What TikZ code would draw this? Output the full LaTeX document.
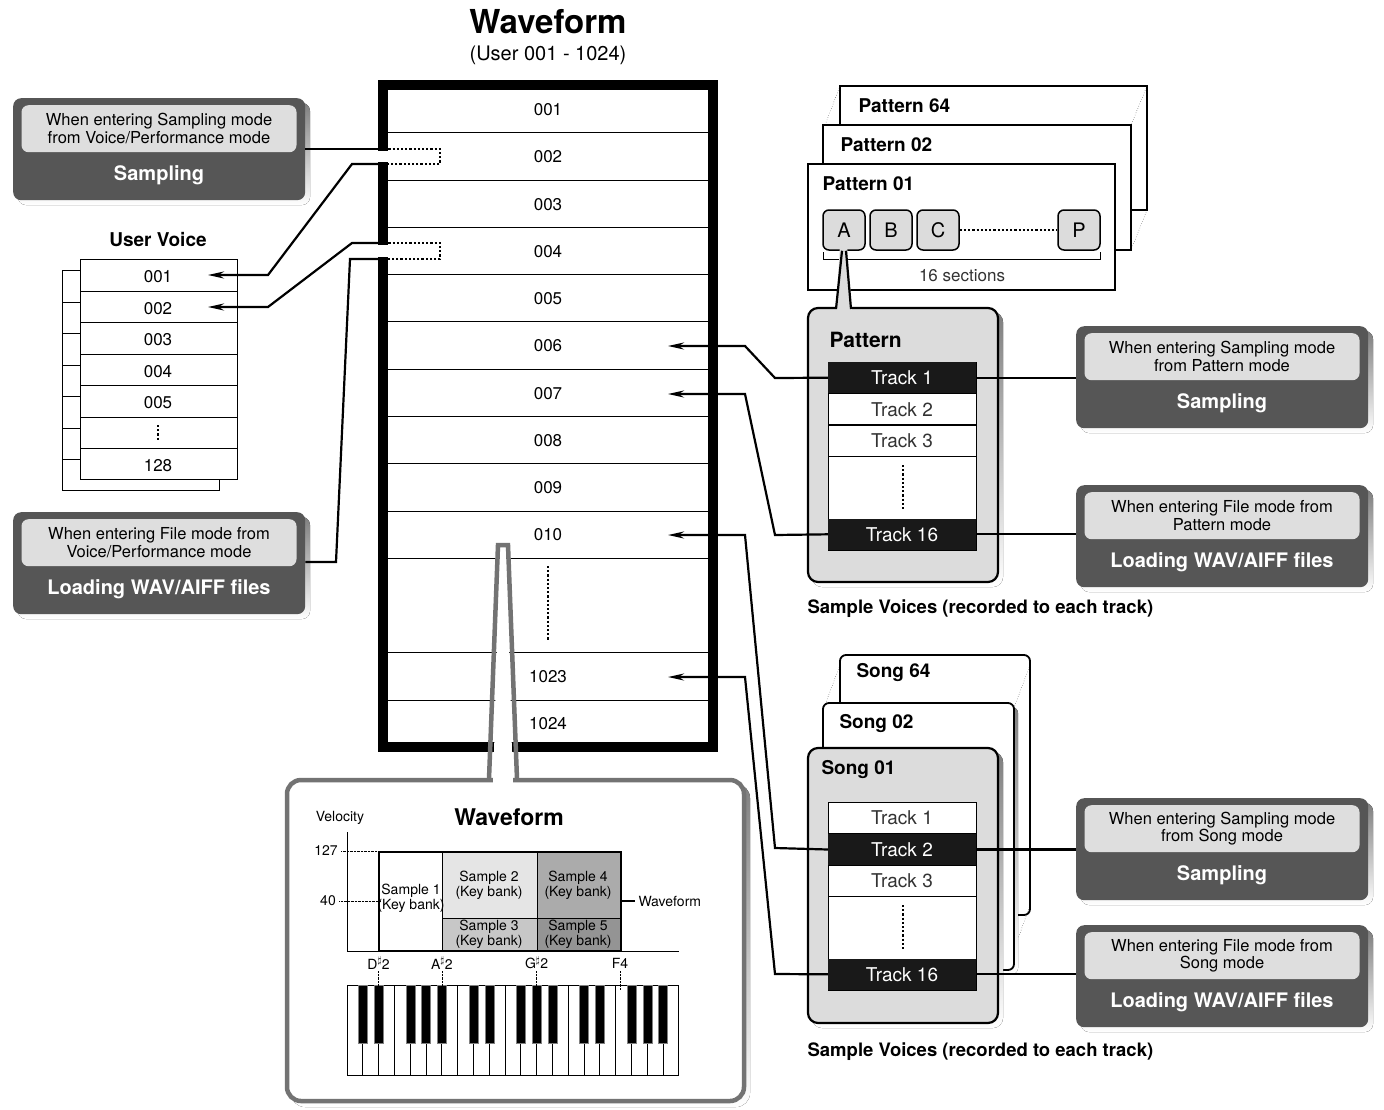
\documentclass[tikz,border=0pt]{standalone}
\usepackage{fontspec}
\setmainfont{TeX Gyre Heros}
\usepackage{tikz}
\usetikzlibrary{arrows.meta,calc}
\usepackage{xcolor}
\definecolor{modedark}{HTML}{565656}
\definecolor{modelight}{HTML}{DEDEDE}
\definecolor{panelgray}{HTML}{DCDCDC}
\definecolor{shade}{HTML}{B4B4B4}

\begin{document}
\begin{tikzpicture}[x=1pt,y=-1pt]
	 \tikzstyle{cell}=[font=\fontsize{17}{19}\selectfont]
	 \tikzstyle{small}=[font=\fontsize{14}{15}\selectfont]
	 \tikzstyle{heading}=[font=\bfseries\fontsize{19}{21}\selectfont]
	 \tikzstyle{modetext}=[font=\fontsize{16.5}{17.5}\selectfont,align=center]
	 \tikzstyle{modetitle}=[font=\bfseries\fontsize{20}{22}\selectfont,white]
	 \tikzstyle{track}=[minimum width=148,minimum height=31,inner sep=0pt,font=\fontsize{19}{21}\selectfont]
	 \tikzstyle{dark track}=[track,fill=black!90,text=white]
	 \tikzstyle{light track}=[track,fill=white,draw=black,line width=0.8pt,text=black!80]
	 \tikzstyle{link}=[draw,line width=2.2pt,black]
	 \tikzstyle{linkarrow}=[link,-{Stealth[length=16pt,width=7pt]}]
	 \tikzstyle{pad}=[draw,line width=1.5pt,rounded corners=6pt,fill=panelgray,minimum width=42,minimum height=40,font=\fontsize{20}{21}\selectfont]

	 \useasboundingbox (0,0) rectangle (1384,1109);

	 % title
	 \node[font=\bfseries\fontsize{33}{35}\selectfont] (title) at (548,22) {Waveform};
	 \node[font=\fontsize{20}{22}\selectfont] (subtitle) at (548,55) {(User 001 - 1024)};

	 % waveform list
	 \draw[line width=10pt] (383,85) rectangle (713,747);
	 \foreach \y in {132,180,227,274,321,369,416,463,511,558,652,700}
	   \draw[line width=0.9pt] (388,\y) -- (709,\y);
	 \foreach \l/\y in {001/110,002/157,003/205,004/252,005/299,006/346,007/394,008/441,009/488,010/535,1023/677,1024/724}
	   \node[cell] (w\l) at (548,\y) {\l};
	 \draw[line width=2.2pt,dotted] (548,566) -- (548,640);
	 \coordinate (a006) at (668,346);
	 \coordinate (a007) at (668,394);
	 \coordinate (a010) at (668,535);
	 \coordinate (a1023) at (668,677);

	 % entry points on the border
	 \fill[white] (377,151) rectangle (389,162);
	 \fill[white] (377,245) rectangle (389,257);
	 \draw[line width=2.2pt,dotted] (380,149) -- (440,149) -- (440,164) -- (380,164);
	 \draw[line width=2.2pt,dotted] (380,243) -- (440,243) -- (440,259) -- (380,259);
	 \coordinate (in2a) at (380,149);
	 \coordinate (in2b) at (380,164);
	 \coordinate (in4a) at (380,243);
	 \coordinate (in4b) at (380,259);

	 % mode boxes
	 \foreach \n/\x/\y/\a/\b in {
	   mvs/13/98/{When entering Sampling mode\\from Voice/Performance mode}/{Sampling},
	   mvf/13/512/{When entering File mode from\\Voice/Performance mode}/{Loading WAV/AIFF files},
	   mps/1076/326/{When entering Sampling mode\\from Pattern mode}/{Sampling},
	   mpf/1076/485/{When entering File mode from\\Pattern mode}/{Loading WAV/AIFF files},
	   mss/1076/798/{When entering Sampling mode\\from Song mode}/{Sampling},
	   msf/1076/925/{When entering File mode from\\Song mode}/{Loading WAV/AIFF files}}
	 {
	   \fill[shade,rounded corners=8pt] (\x+5,\y+5) rectangle ++(292,102);
	   \node[fill=modedark,rounded corners=8pt,minimum width=292,minimum height=102,inner sep=0pt,anchor=north west] (\n) at (\x,\y) {};
	   \node[fill=modelight,rounded corners=7pt,minimum width=275,minimum height=47,inner sep=0pt,anchor=north] (\n in) at (\x+146,\y+7) {};
	   \node[modetext] (\n t) at (\n in) {\a};
	   \node[modetitle] (\n b) at (\x+146,\y+77) {\b};
	 }

	 % user voice
	 \node[heading] (uvtitle) at (158,240) {User Voice};
	 \draw[line width=0.8pt] (80,270) -- (62,270) -- (62,490) -- (219,490) -- (219,479);
	 \foreach \y in {302,333,365,396,428,459}
	   \draw[line width=0.8pt] (62,\y) -- (80,\y);
	 \draw[line width=0.8pt] (80,259) rectangle (237,479);
	 \foreach \y in {291,322,354,385,417,448}
	   \draw[line width=0.8pt] (80,\y) -- (237,\y);
	 \foreach \l/\y in {001/277,002/309,003/340,004/372,005/403,128/466}
	   \node[cell] (u\l) at (158,\y) {\l};
	 \draw[line width=2.2pt,dotted] (158,425) -- (158,440);
	 \coordinate (a001) at (208,275);
	 \coordinate (a002) at (208,307);

	 % left connectors
	 \draw[link] (mvs.east |- in2a) -- (in2a);
	 \draw[linkarrow] (in2b) -- ++(-28,0) -- (268,275) -- (a001);
	 \draw[linkarrow] (in4a) -- ++(-28,0) -- (268,307) -- (a002);
	 \draw[link] (in4b) -- ++(-30,0) -- (336,562) -- (mvf.east |- 0,562);

	 % zoomed waveform
	 \fill[shade,rounded corners=14pt] (291,784) rectangle (750,1107);
	 \draw[line width=4.5pt,black!55,fill=white,rounded corners=14pt] (287,780) rectangle (744,1101);
	 \fill[white] (493,786) -- (500,545) -- (506,545) -- (513,786) -- cycle;
	 \draw[line width=4.5pt,black!55] (489,779) -- (498,545) -- (508,545) -- (517,779);
	 \node[small] (vel) at (340,818) {Velocity};
	 \node[font=\bfseries\fontsize{23}{25}\selectfont] (ztitle) at (509,817) {Waveform};
	 \draw[line width=0.9pt] (347,832) -- (347,951) -- (679,951);
	 \node[small] (v127) at (326,851) {127};
	 \node[small] (v40) at (328,901) {40};
	 \draw[densely dotted] (v127.east) -- (380,851);
	 \draw[densely dotted] (v40.east) -- (380,901);
	 \fill[black!10] (442,852) rectangle (537,918);
	 \fill[black!22] (442,918) rectangle (537,951);
	 \fill[black!33] (537,852) rectangle (621,918);
	 \fill[black!42] (537,918) rectangle (621,951);
	 \draw[line width=0.9pt] (442,852) -- (442,951) (537,852) -- (537,951) (442,918) -- (621,918);
	 \draw[line width=1.8pt] (379,852) rectangle (621,951);
	 \node[small,align=center,inner sep=0pt] (s1) at (411,898) {Sample 1\\(Key bank)};
	 \node[small,align=center,inner sep=0pt] (s2) at (489,885) {Sample 2\\(Key bank)};
	 \node[small,align=center,inner sep=0pt] (s3) at (489,934) {Sample 3\\(Key bank)};
	 \node[small,align=center,inner sep=0pt] (s4) at (578,885) {Sample 4\\(Key bank)};
	 \node[small,align=center,inner sep=0pt] (s5) at (578,934) {Sample 5\\(Key bank)};
	 \node[small,anchor=west] (wflabel) at (635,901) {Waveform};
	 \draw[line width=1.8pt] (621,901) -- (wflabel.west);
	 % keyboard
	 \foreach \i in {0,...,20}
	   \draw[line width=0.8pt,fill=white] (347+\i*15.8,985) rectangle ++(15.8,90);
	 \foreach \i in {1,2,4,5,6,8,9,11,12,13,15,16,18,19,20}
	   \draw[black!50,fill=black] (347+\i*15.8-4.5,985) rectangle ++(9,58);
	 \foreach \n/\t/\x in {k1/D$^\sharp$2/378.6,k2/A$^\sharp$2/441.8,k3/G$^\sharp$2/536.6,k4/F4/620}
	 {
	   \node[small] (\n) at (\x,963) {\t};
	   \draw[densely dotted] (\x,971) -- (\x,990);
	 }

	 % pattern stack
	 \draw[line width=1.8pt,fill=white] (840,86) rectangle (1147,210);
	 \draw[dotted] (840,86) -- (825,125) (1147,86) -- (1131,125) (1147,210) -- (1131,250);
	 \node[heading,anchor=west] (p64) at (855,106) {Pattern 64};
	 \draw[line width=1.8pt,fill=white] (823,125) rectangle (1131,250);
	 \node[heading,anchor=west] (p02) at (837,145) {Pattern 02};
	 \draw[line width=1.8pt,fill=white] (808,164) rectangle (1115,290);
	 \node[heading,anchor=west] (p01) at (819,184) {Pattern 01};
	 \node[pad] (sa) at (844,230) {A};
	 \node[pad] (sb) at (891,230) {B};
	 \node[pad] (sc) at (938,230) {C};
	 \node[pad] (sp) at (1079,230) {P};
	 \draw[line width=2.2pt,dotted] (sc.east) -- (sp.west);
	 \draw[line width=0.8pt] (823,252) -- (823,259) -- (1100,259) -- (1100,252);
	 \node[cell,text=black!80] (secs) at (962,276) {16 sections};

	 % pattern panel
	 \fill[shade,rounded corners=10pt] (812,312) rectangle (1003,587);
	 \draw[line width=2.2pt,fill=panelgray,rounded corners=10pt] (808,308) rectangle (998,582);
	 \fill[panelgray] (840,245) -- (847,245) -- (852,311) -- (836,311) -- cycle;
	 \draw[line width=2.2pt] (sa.south) ++(-2,0) -- (836,309) (sa.south) ++(2,0) -- (851,309);
	 \node[font=\bfseries\fontsize{21}{23}\selectfont,anchor=west] (pt) at (826,340) {Pattern};
	 \draw[line width=0.8pt,fill=white] (828,362) rectangle (976,550);
	 \node[dark track,anchor=north] (pt1) at (902,362) {Track 1};
	 \node[light track,anchor=north] (pt2) at (pt1.south) {Track 2};
	 \node[light track,anchor=north] (pt3) at (pt2.south) {Track 3};
	 \node[dark track,anchor=south] (pt16) at (902,550) {Track 16};
	 \draw[line width=2.2pt,dotted] (903,465) -- (903,510);
	 \node[anchor=west,font=\bfseries\fontsize{18.5}{20}\selectfont] (psv) at (804,609) {Sample Voices (recorded to each track)};

	 % song stack
	 \draw[line width=1.8pt,fill=white,rounded corners=6pt] (840,655) rectangle (1030,915);
	 \draw[dotted] (840,665) -- (825,705) (1030,665) -- (1014,708) (1030,905) -- (1014,950);
	 \node[heading,anchor=west] (s64) at (853,673) {Song 64};
	 \fill[shade,rounded corners=6pt] (827,707) rectangle (1018,974);
	 \draw[line width=1.8pt,fill=white,rounded corners=6pt] (823,703) rectangle (1014,970);
	 \node[heading,anchor=west] (s02) at (836,724) {Song 02};
	 \fill[shade,rounded corners=10pt] (812,752) rectangle (1003,1028);
	 \draw[line width=2.2pt,fill=panelgray,rounded corners=10pt] (808,748) rectangle (998,1023);
	 \node[heading,anchor=west] (s01) at (818,770) {Song 01};
	 \draw[line width=0.8pt,fill=white] (828,802) rectangle (976,990);
	 \node[light track,anchor=north] (st1) at (902,802) {Track 1};
	 \node[dark track,anchor=north] (st2) at (st1.south) {Track 2};
	 \node[light track,anchor=north] (st3) at (st2.south) {Track 3};
	 \node[dark track,anchor=south] (st16) at (902,990) {Track 16};
	 \draw[line width=2.2pt,dotted] (903,905) -- (903,950);
	 \node[anchor=west,font=\bfseries\fontsize{18.5}{20}\selectfont] (ssv) at (804,1052) {Sample Voices (recorded to each track)};

	 % right connectors
	 \draw[linkarrow] (pt1.west) -- (775,378) -- (745,346) -- (a006);
	 \draw[linkarrow] (pt16.west) -- (775,535) -- (745,394) -- (a007);
	 \draw[linkarrow] (st2.west) -- (775,848) -- (745,535) -- (a010);
	 \draw[linkarrow] (st16.west) -- (775,974) -- (745,677) -- (a1023);
	 \draw[link] (pt1.east) -- (mps.west |- pt1.east);
	 \draw[link] (pt16.east) -- (mpf.west |- pt16.east);
	 \draw[link] (st2.east) -- (mss.west |- st2.east);
	 \draw[link] (st16.east) -- (msf.west |- st16.east);
\end{tikzpicture}
\end{document}
